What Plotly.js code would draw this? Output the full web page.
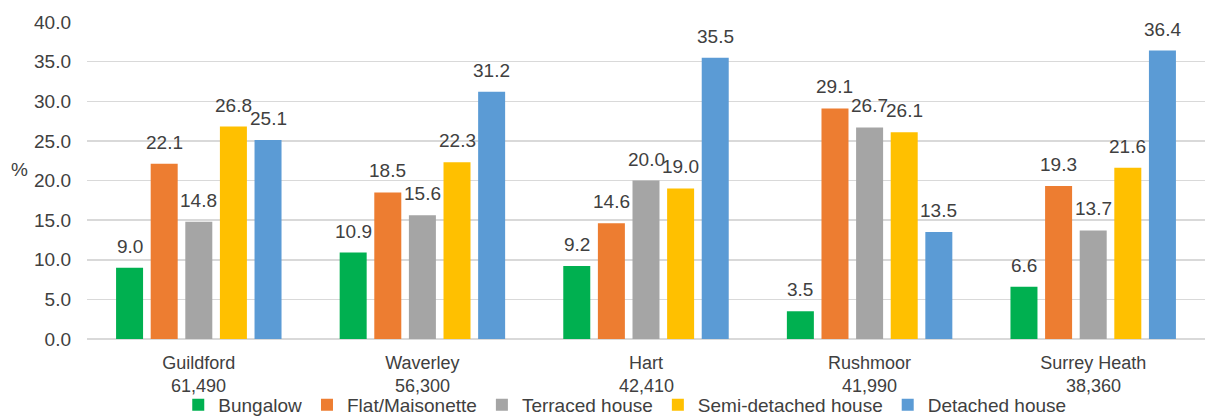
<!DOCTYPE html>
<html>
<head>
<meta charset="utf-8">
<script src="https://cdn.plot.ly/plotly-3.0.1.min.js"></script>
<style>
  html, body { margin: 0; padding: 0; background: #fff; }
  #chart { width: 1206px; height: 419px; }
</style>
</head>
<body>
<div id="chart"></div>
<script>
// Local authority areas and their household counts
const areas = ['Guildford', 'Waverley', 'Hart', 'Rushmoor', 'Surrey Heath'];
const households = ['61,490', '56,300', '42,410', '41,990', '38,360'];

// Share of dwellings by type (%)
const seriesNames = ['Bungalow', 'Flat/Maisonette', 'Terraced house', 'Semi-detached house', 'Detached house'];
const bungalow = [9.0, 10.9, 9.2, 3.5, 6.6];
const flat = [22.1, 18.5, 14.6, 29.1, 19.3];
const terraced = [14.8, 15.6, 20.0, 26.7, 13.7];
const semiDetached = [26.8, 22.3, 19.0, 26.1, 21.6];
const detached = [25.1, 31.2, 35.5, 13.5, 36.4];
const seriesValues = [bungalow, flat, terraced, semiDetached, detached];
const seriesColors = ['#00B050', '#ED7D31', '#A5A5A5', '#FFC000', '#5B9BD5'];

const FONT = 'Liberation Sans, Arial, sans-serif';
const TEXT_COLOR = '#404040';
const BARGAP = 0.226;
const BARGROUPGAP = 0.22;

const xIdx = areas.map((_, i) => i);

const traces = seriesValues.map((vals, s) => ({
  type: 'bar',
  name: seriesNames[s],
  x: xIdx,
  y: vals,
  marker: { color: seriesColors[s] },
  hoverinfo: 'skip'
}));

// Value labels sit above each bar, offset to the bar's slot within its group
const slot = (1 - BARGAP) / seriesValues.length;
const annotations = [];
seriesValues.forEach((vals, s) => {
  const off = (s - (seriesValues.length - 1) / 2) * slot;
  vals.forEach((v, i) => {
    annotations.push({
      x: i + off, y: v, xref: 'x', yref: 'y',
      text: v.toFixed(1), showarrow: false,
      xanchor: 'center', yanchor: 'bottom', yshift: 9,
      font: { family: FONT, size: 19, color: TEXT_COLOR }
    });
  });
});

// Household counts under each area name
households.forEach((h, i) => {
  annotations.push({
    x: i, y: 0, xref: 'x', yref: 'paper',
    text: h, showarrow: false,
    xanchor: 'center', yanchor: 'top', yshift: -35,
    font: { family: FONT, size: 18, color: TEXT_COLOR }
  });
});

// Axis unit label
annotations.push({
  x: 0, y: 0.536, xref: 'paper', yref: 'paper',
  text: '%', showarrow: false, xanchor: 'center', yanchor: 'middle', xshift: -68,
  font: { family: FONT, size: 19, color: TEXT_COLOR }
});

const layout = {
  width: 1206, height: 419,
  margin: { l: 87, r: 1, t: 22, b: 80, autoexpand: false },
  paper_bgcolor: '#fff', plot_bgcolor: '#fff',
  barmode: 'group', bargap: BARGAP, bargroupgap: BARGROUPGAP,
  font: { family: FONT, size: 19, color: TEXT_COLOR },
  showlegend: true,
  legend: {
    orientation: 'h', x: 0.481, xanchor: 'center', y: -0.208, yanchor: 'middle',
    font: { family: FONT, size: 19, color: TEXT_COLOR },
    itemclick: false, itemdoubleclick: false
  },
  xaxis: {
    type: 'linear', range: [-0.5, areas.length - 0.5],
    tickvals: xIdx, ticktext: areas,
    showgrid: false, zeroline: false, showline: false, ticks: '',
    ticklabelstandoff: 11, automargin: false,
    tickfont: { family: FONT, size: 18, color: TEXT_COLOR }
  },
  yaxis: {
    range: [0, 40], dtick: 5, tick0: 0, tickformat: '.1f',
    showgrid: true, gridcolor: '#D9D9D9', gridwidth: 1.5,
    zeroline: true, zerolinecolor: '#D9D9D9', zerolinewidth: 1.5,
    showline: false, ticks: '', ticklabelstandoff: 15, automargin: false,
    tickfont: { family: FONT, size: 19, color: TEXT_COLOR }
  },
  annotations: annotations
};

Plotly.newPlot('chart', traces, layout, { displayModeBar: false, staticPlot: true });
</script>
</body>
</html>
